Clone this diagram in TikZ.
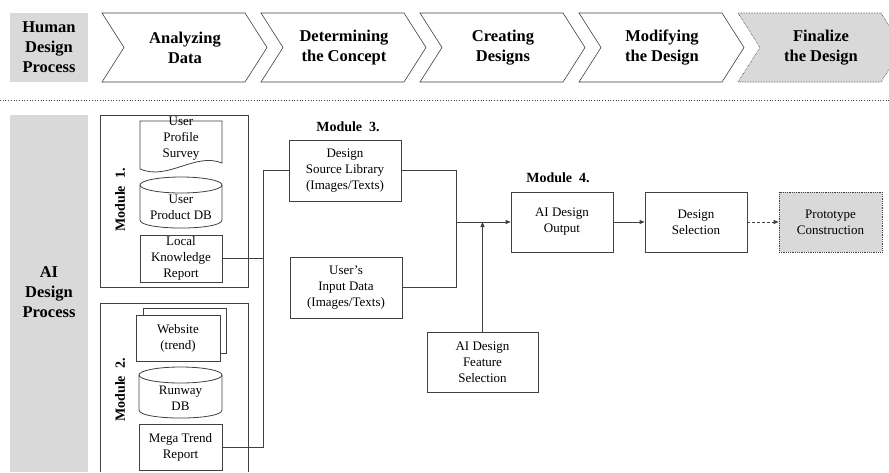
\documentclass[tikz,border=0pt]{standalone}
\usepackage{fontspec}
\setmainfont{Liberation Serif}
\usetikzlibrary{arrows.meta}
\definecolor{boxgray}{HTML}{D9D9D9}
\definecolor{linegray}{HTML}{404040}

\begin{document}
\begin{tikzpicture}[x=1pt, y=-1pt, line width=0.8pt,
    box/.style={draw=linegray, fill=white, align=center, inner sep=0pt,
        font=\fontsize{13}{16}\selectfont},
    stage/.style={align=center, font=\bfseries\fontsize{16.5}{20}\selectfont},
    modlabel/.style={font=\bfseries\fontsize{14}{16}\selectfont},
    arr/.style={-{Triangle[length=5pt,width=4pt]}}]
    \useasboundingbox (0,0) rectangle (889,472);

    % human design process
    \node[stage, fill=boxgray, minimum width=78pt, minimum height=69pt] (human) at (49,47.5) {Human\\Design\\Process};

    \draw[linegray, line width=0.6pt] (102,13) -- (245,13) -- (267,47.5) -- (245,82) -- (102,82) -- (124,47.5) -- cycle;
    \node[stage] (analyze) at (185,47.5) {Analyzing\\Data};

    \draw[linegray, line width=0.6pt] (261,13) -- (404,13) -- (426,47.5) -- (404,82) -- (261,82) -- (283,47.5) -- cycle;
    \node[stage] (concept) at (344,47.5) {Determining\\the Concept};

    \draw[linegray, line width=0.6pt] (420,13) -- (563,13) -- (585,47.5) -- (563,82) -- (420,82) -- (442,47.5) -- cycle;
    \node[stage] (create) at (503,47.5) {Creating\\Designs};

    \draw[linegray, line width=0.6pt] (579,13) -- (722,13) -- (744,47.5) -- (722,82) -- (579,82) -- (601,47.5) -- cycle;
    \node[stage] (modify) at (662,47.5) {Modifying\\the Design};

    \draw[linegray, line width=0.6pt, fill=boxgray, densely dotted] (738,13) -- (881,13) -- (903,47.5) -- (881,82) -- (738,82) -- (760,47.5) -- cycle;
    \node[stage] (final) at (821,47.5) {Finalize\\the Design};

    \draw[linegray, dotted, line width=0.7pt] (0,100) -- (889,100);

    % ai design process
    \fill[boxgray] (10,115) rectangle (88,472);
    \node[stage] (aiproc) at (49,292) {AI\\Design\\Process};

    % module 1
    \draw[linegray] (100,115) rectangle (248,287);
    \node[modlabel, rotate=90] (mod1) at (120,200) {Module\ \ 1.};

    \draw[linegray, fill=white] (222,121) -- (140,121) -- (140,169) .. controls (168,181) and (195,152) .. (222,163) -- cycle;
    \node[box, draw=none, fill=none] (survey) at (181,139) {User\\Profile\\Survey};

    \draw[linegray] (140,185) -- (140,220) .. controls (140,230.7) and (222,230.7) .. (222,220) -- (222,185);
    \draw[linegray] (181,185) ellipse [x radius=41, y radius=8];
    \node[box, draw=none, fill=none] (proddb) at (181,207) {User\\Product DB};

    \node[box, minimum width=82pt, minimum height=47pt] (lkr) at (181,258.5) {Local\\Knowledge\\Report};

    % module 2
    \draw[linegray] (100,472) -- (100,303) -- (248,303) -- (248,472);
    \node[modlabel, rotate=90] (mod2) at (120,390) {Module\ \ 2.};

    \node[box, minimum width=83pt, minimum height=45pt] (webback) at (184.5,330.5) {};
    \node[box, minimum width=84pt, minimum height=46pt] (website) at (178,338) {Website\\(trend)};

    \draw[linegray] (139,375) -- (139,410) .. controls (139,420.7) and (222,420.7) .. (222,410) -- (222,375);
    \draw[linegray] (180.5,375) ellipse [x radius=41.5, y radius=8];
    \node[box, draw=none, fill=none] (runway) at (180.5,398) {Runway\\DB};

    \node[box, minimum width=83pt, minimum height=46pt] (mtr) at (180.5,447) {Mega Trend\\Report};

    % module 3
    \node[modlabel] (mod3) at (348,127) {Module\ \ 3.};
    \node[box, minimum width=112pt, minimum height=61pt] (dsl) at (345,170.5) {Design\\Source Library\\(Images/Texts)};
    \node[box, minimum width=112pt, minimum height=61pt] (uid) at (346,287.5) {User's\\Input Data\\(Images/Texts)};

    \coordinate (bus) at (263,170.5);
    \draw[linegray] (lkr.east) -- (lkr.east -| bus);
    \draw[linegray] (mtr.east) -| (bus) -- (dsl.west);

    % module 4
    \node[modlabel] (mod4) at (558,178) {Module\ \ 4.};
    \node[box, minimum width=102pt, minimum height=60pt] (aido) at (562,222) {AI Design\\Output};
    \node[box, minimum width=102pt, minimum height=60pt] (dsel) at (696,222) {Design\\Selection};
    \node[box, fill=boxgray, densely dotted, minimum width=103pt, minimum height=60pt] (proto) at (830.5,222) {Prototype\\Construction};
    \node[box, minimum width=111pt, minimum height=60pt] (aidfs) at (482.5,362) {AI Design\\Feature\\Selection};

    \coordinate (merge) at (456,222);
    \draw[linegray] (dsl.east) -| (merge);
    \draw[linegray] (uid.east) -| (merge);
    \draw[linegray, arr] (merge) -- (aido.west);
    \draw[linegray, arr] (aidfs.north) -- (aidfs.north |- merge);

    \draw[linegray, arr] (aido.east) -- (dsel.west);
    \draw[linegray, arr, densely dashed] (dsel.east) -- (proto.west);

\end{tikzpicture}
\end{document}
